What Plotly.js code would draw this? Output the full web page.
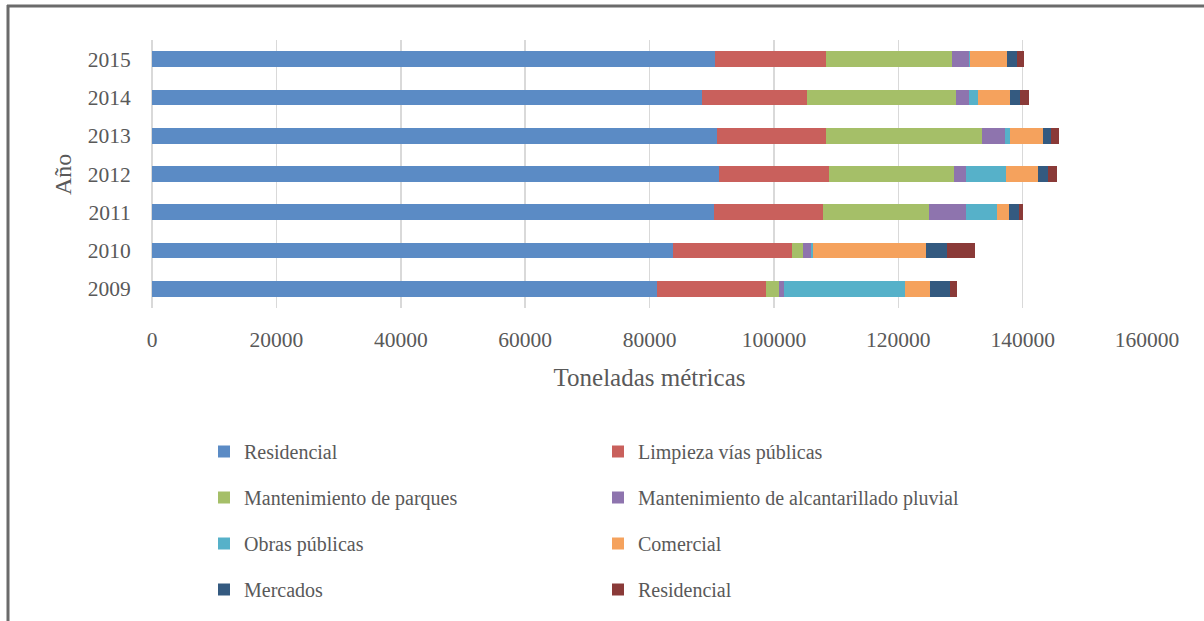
<!DOCTYPE html>
<html>
<head>
<meta charset="utf-8">
<script src="https://cdn.plot.ly/plotly-3.0.1.min.js"></script>
<style>html,body{margin:0;padding:0;background:#fff;}#chart{width:1204px;height:621px;}</style>
</head>
<body>
<div id="chart"></div>
<script>
var years = ['2009', '2010', '2011', '2012', '2013', '2014', '2015'];
var seriesNames = ['Residencial', 'Limpieza vías públicas', 'Mantenimiento de parques',
  'Mantenimiento de alcantarillado pluvial', 'Obras públicas', 'Comercial', 'Mercados', 'Residencial'];
var residencial   = [81200, 83800, 90350, 91150, 90900, 88500, 90500];
var limpieza      = [17600, 19150, 17500, 17700, 17500, 16800, 17900];
var parques       = [1950, 1700, 17150, 20150, 25100, 24000, 20300];
var alcantarillado= [800, 1300, 5900, 1950, 3650, 2050, 2600];
var obras         = [19500, 350, 5000, 6400, 800, 1400, 200];
var comercial     = [4100, 18100, 1900, 5050, 5350, 5250, 6000];
var mercados      = [3150, 3500, 1550, 1600, 1200, 1600, 1600];
var residencial2  = [1200, 4500, 650, 1550, 1350, 1350, 1200];
var xTicks = [0, 20000, 40000, 60000, 80000, 100000, 120000, 140000, 160000];
var yTitle = 'Año';
var xTitle = 'Toneladas métricas';

var allValues = [residencial, limpieza, parques, alcantarillado, obras, comercial, mercados, residencial2];
var colors = ['#5B8BC5', '#C9605C', '#A5BF68', '#8E74AE', '#56B1C9', '#F5A25D', '#345A80', '#8A3A38'];
var legendIds = ['legend', 'legend2', 'legend', 'legend2', 'legend', 'legend2', 'legend', 'legend2'];

var traces = allValues.map(function (vals, i) {
  return {
    type: 'bar', orientation: 'h',
    x: vals, y: years,
    name: seriesNames[i],
    legendgroup: 'g' + i,
    legend: legendIds[i],
    marker: {color: colors[i], line: {width: 0}},
    hoverinfo: 'x+name'
  };
});

var fontFam = '"Liberation Serif", "Times New Roman", serif';
var grey = '#595959';
var mL = 152, mR = 57, mT = 40, mB = 313;
var pw = 1204 - mL - mR, ph = 621 - mT - mB;
function px(x) { return (x - mL) / pw; }
function py(y) { return (621 - mB - y) / ph; }

var legendCommon = {
  xref: 'container', yref: 'container',
  yanchor: 'top', xanchor: 'left',
  orientation: 'v', traceorder: 'grouped', tracegroupgap: 17,
  font: {family: fontFam, size: 20, color: grey},
  bgcolor: 'rgba(0,0,0,0)', borderwidth: 0
};

var layout = {
  width: 1204, height: 621,
  margin: {l: mL, r: mR, t: mT, b: mB, pad: 0, autoexpand: false},
  paper_bgcolor: '#ffffff', plot_bgcolor: '#ffffff',
  barmode: 'stack', bargap: 0.59,
  font: {family: fontFam, color: grey},
  showlegend: true,
  xaxis: {
    range: [0, 160000], tickvals: xTicks, ticktext: xTicks.map(String),
    tickangle: 0,
    showgrid: true, gridcolor: '#d9d9d9', gridwidth: 1.5,
    zeroline: true, zerolinecolor: '#d9d9d9', zerolinewidth: 1.5,
    showline: false, ticks: 'outside', ticklen: 12, tickcolor: 'rgba(0,0,0,0)',
    tickfont: {family: fontFam, size: 21.5, color: grey},
    title: {text: xTitle, font: {family: fontFam, size: 25, color: grey}, standoff: 17},
    automargin: false, fixedrange: true
  },
  yaxis: {
    type: 'category', categoryorder: 'array', categoryarray: years,
    showgrid: false, zeroline: false, showline: false,
    ticks: 'outside', ticklen: 16, tickcolor: 'rgba(0,0,0,0)',
    tickfont: {family: fontFam, size: 21.5, color: grey},
    automargin: false, fixedrange: true
  },
  annotations: [
    {text: yTitle, xref: 'paper', yref: 'paper', x: px(63), y: py(175),
     xanchor: 'center', yanchor: 'middle', textangle: -90, showarrow: false,
     font: {family: fontFam, size: 24, color: grey}}
  ],
  legend: Object.assign({}, legendCommon, {x: 204 / 1204, y: 1 - 432 / 621}),
  legend2: Object.assign({}, legendCommon, {x: 598 / 1204, y: 1 - 432 / 621}),
  shapes: [
    {type: 'line', xref: 'paper', yref: 'paper', x0: px(8), x1: px(8), y0: py(5), y1: py(625),
     line: {color: '#6b6b6b', width: 3}},
    {type: 'line', xref: 'paper', yref: 'paper', x0: px(7), x1: px(1210), y0: py(6), y1: py(6),
     line: {color: '#6b6b6b', width: 3}}
  ]
};

Plotly.newPlot('chart', traces, layout, {displayModeBar: false, staticPlot: true});
</script>
</body>
</html>
